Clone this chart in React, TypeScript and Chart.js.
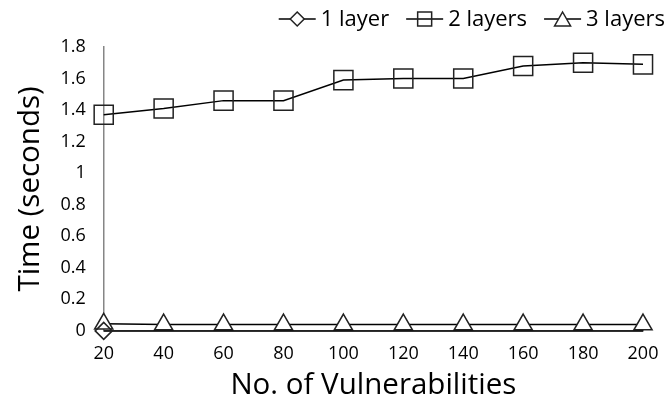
import React, { useEffect, useRef } from "react";
import { Chart, registerables } from "chart.js";

Chart.register(...registerables);

const categories = ["20", "40", "60", "80", "100", "120", "140", "160", "180", "200"];
const oneLayer = [0.0, 0.0, 0.0, 0.0, 0.0, 0.0, 0.0, 0.0, 0.0, 0.0];
const twoLayers = [1.37, 1.41, 1.46, 1.46, 1.59, 1.6, 1.6, 1.68, 1.7, 1.69];
const threeLayers = [0.045, 0.04, 0.04, 0.04, 0.04, 0.04, 0.04, 0.04, 0.04, 0.04];
const seriesNames = ["1 layer", "2 layers", "3 layers"];
const markerKinds = ["diamond", "square", "triangle"];

const FONT = "'Open Sans', sans-serif";

function drawIcon(ctx: CanvasRenderingContext2D, kind: string, x: number, y: number) {
  ctx.save();
  ctx.strokeStyle = "#000";
  ctx.lineWidth = 1.5;
  ctx.beginPath();
  ctx.moveTo(x, y);
  ctx.lineTo(x + 37, y);
  ctx.stroke();
  const cx = x + 18.5;
  ctx.fillStyle = "#fff";
  ctx.strokeStyle = "#222";
  ctx.beginPath();
  if (kind === "diamond") {
    ctx.moveTo(cx, y - 7);
    ctx.lineTo(cx + 7, y);
    ctx.lineTo(cx, y + 7);
    ctx.lineTo(cx - 7, y);
    ctx.closePath();
    ctx.fill();
    ctx.stroke();
  } else if (kind === "square") {
    ctx.rect(cx - 7, y - 7, 14, 14);
    ctx.stroke();
  } else {
    ctx.moveTo(cx, y - 7);
    ctx.lineTo(cx + 8, y + 7);
    ctx.lineTo(cx - 8, y + 7);
    ctx.closePath();
    ctx.fill();
    ctx.stroke();
  }
  ctx.restore();
}

const customLegend = {
  id: "customLegend",
  afterDraw(chart: any) {
    const ctx: CanvasRenderingContext2D = chart.ctx;
    ctx.save();
    ctx.font = `22px ${FONT}`;
    ctx.textBaseline = "middle";
    ctx.fillStyle = "#000";
    const labels: string[] = chart.data.datasets.map((d: any) => d.label);
    const iconW = 37;
    const gapIconText = 5;
    const gapItems = 17;
    const widths = labels.map((t) => ctx.measureText(t).width);
    const total =
      widths.reduce((a, w) => a + iconW + gapIconText + w, 0) + gapItems * (labels.length - 1);
    let x = 665 - total;
    const y = 19;
    labels.forEach((t, i) => {
      drawIcon(ctx, markerKinds[i], x, y);
      x += iconW + gapIconText;
      ctx.fillText(t, x, y + 1);
      x += widths[i] + gapItems;
    });
    ctx.restore();
  },
};

export default function App() {
  const ref = useRef<HTMLCanvasElement>(null);
  useEffect(() => {
    document.body.style.margin = "0";
    const chart = new Chart(ref.current!, {
      type: "line",
      data: {
        labels: categories,
        datasets: [
          {
            label: seriesNames[0],
            data: oneLayer,
            borderColor: "#000",
            borderWidth: 1.5,
            pointStyle: "rectRot",
            pointRadius: oneLayer.map((_, i) => (i === 0 ? 8.5 : 0)),
            pointBackgroundColor: "rgba(255,255,255,0)",
            pointBorderColor: "#222",
            pointBorderWidth: 1.5,
            clip: false,
            order: 0,
          },
          {
            label: seriesNames[1],
            data: twoLayers,
            borderColor: "#000",
            borderWidth: 1.5,
            pointStyle: "rect",
            pointRadius: 13.5,
            pointBackgroundColor: "rgba(255,255,255,0)",
            pointBorderColor: "#222",
            pointBorderWidth: 1.5,
            clip: false,
            order: 2,
          },
          {
            label: seriesNames[2],
            data: threeLayers,
            borderColor: "#000",
            borderWidth: 1.5,
            pointStyle: "triangle",
            pointRadius: 10.5,
            pointBackgroundColor: "#fff",
            pointBorderColor: "#222",
            pointBorderWidth: 1.5,
            clip: false,
            order: 1,
          },
        ],
      },
      plugins: [customLegend],
      options: {
        animation: false,
        responsive: false,
        layout: { padding: { top: 47, right: 26, left: 13, bottom: 0 } },
        plugins: {
          tooltip: { enabled: false },
          legend: { display: false },
        },
        scales: {
          x: {
            type: "category",
            offset: false,
            grid: { display: false, drawTicks: true, tickLength: 6, tickColor: "#868686" },
            border: { display: true, color: "#868686", width: 1.5 },
            ticks: { color: "#000", font: { family: FONT, size: 18 }, padding: 6, maxRotation: 0 },
            title: {
              display: true,
              text: "No. of Vulnerabilities",
              color: "#000",
              font: { family: FONT, size: 29.5, lineHeight: 1.0 },
              padding: { top: 0, bottom: 1 },
            },
          },
          y: {
            min: 0,
            max: 1.8,
            grid: { display: false, drawTicks: true, tickLength: 8, tickColor: "#868686" },
            border: { display: true, color: "#868686", width: 1.5 },
            ticks: {
              stepSize: 0.2,
              color: "#000",
              font: { family: FONT, size: 18 },
              padding: 10,
              callback: (v: any) => String(Number(Number(v).toFixed(1))),
            },
            title: {
              display: true,
              text: "Time (seconds)",
              color: "#000",
              font: { family: FONT, size: 29.5 },
              padding: { top: 0, bottom: 2 },
            },
          },
        },
      },
    });
    return () => chart.destroy();
  }, []);
  return (
    <div style={{ width: 669, height: 401, background: "#fff" }}>
      <canvas ref={ref} width={669} height={401} />
    </div>
  );
}
